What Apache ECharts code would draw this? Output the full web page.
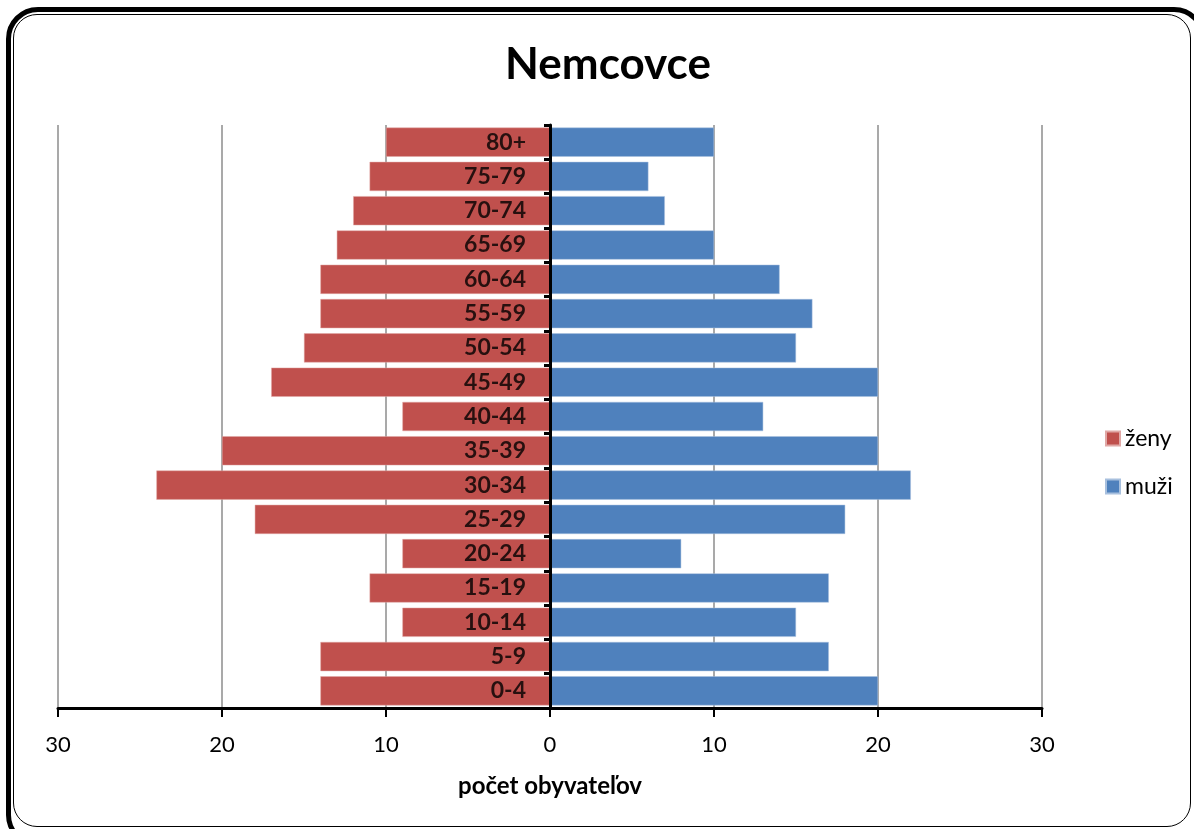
<!DOCTYPE html>
<html><head><meta charset="utf-8">
<script src="https://cdn.jsdelivr.net/npm/echarts@6/dist/echarts.min.js"></script>
<style>
html,body{margin:0;padding:0;background:#fff;overflow:hidden;}
#outer{position:absolute;left:6px;top:7px;width:1200px;height:840px;border:5px solid #000;border-radius:32px;box-sizing:border-box;}
#inner{position:absolute;left:13px;top:14px;width:1178px;height:813px;border:1.5px solid #000;border-radius:24px;box-sizing:border-box;background:#fff;}
#chart{position:absolute;left:0;top:0;width:1194px;height:829px;}
</style></head>
<body>
<div id="outer"></div>
<div id="inner"></div>
<div id="chart"></div>
<script>
const categories = ['0-4','5-9','10-14','15-19','20-24','25-29','30-34','35-39','40-44','45-49','50-54','55-59','60-64','65-69','70-74','75-79','80+'];
const zeny = [14,14,9,11,9,18,24,20,9,17,15,14,14,13,12,11,10];
const muzi = [20,17,15,17,8,18,22,20,13,20,15,16,14,10,7,6,10];
const xTicks = [-30,-20,-10,0,10,20,30];

const FONT = "'Lato',sans-serif";
const chart = echarts.init(document.getElementById('chart'));
chart.setOption({
  animation:false,
  title:{text:'Nemcovce',left:603,top:38,textAlign:'center',
    textStyle:{fontFamily:FONT,fontWeight:'bold',fontSize:44,color:'#000'}},
  legend:{orient:'vertical',left:1100,top:422,itemWidth:14,itemHeight:14,itemGap:25,icon:'rect',
    textStyle:{fontFamily:FONT,fontSize:23,color:'#000'},
    data:['ženy','muži']},
  grid:{left:58,right:152,top:125,bottom:121,outerBoundsMode:'none',containLabel:false},
  xAxis:{type:'value',min:xTicks[0],max:xTicks[xTicks.length-1],interval:10,
    name:'počet obyvateľov',nameLocation:'middle',nameGap:66,
    nameTextStyle:{fontFamily:FONT,fontWeight:'bold',fontSize:24,color:'#000'},
    axisLine:{show:true,onZero:false,lineStyle:{color:'#000',width:3}},
    axisTick:{show:true,length:9,lineStyle:{color:'#000',width:2}},
    axisLabel:{margin:26,fontFamily:FONT,fontSize:22,color:'#000',formatter:v=>Math.abs(v)},
    splitLine:{show:true,lineStyle:{color:'#8c8c8c',width:1.5}}},
  yAxis:{type:'category',data:categories,
    axisLine:{show:true,onZero:true,lineStyle:{color:'#000',width:3}},
    axisTick:{show:true,length:6,lineStyle:{color:'#000',width:3}},
    axisLabel:{show:false},
    z:10},
  series:[
    {name:'ženy',type:'bar',data:zeny.map(v=>-v),barWidth:'85%',barGap:'-100%',
      itemStyle:{color:'#c0504d',borderColor:'#e0a8a6',borderWidth:0.5}},
    {name:'muži',type:'bar',data:muzi,barWidth:'85%',barGap:'-100%',
      itemStyle:{color:'#4f81bd',borderColor:'#a8c0de',borderWidth:0.5}},
    {name:'labels',type:'scatter',symbolSize:0,silent:true,z:20,
      data:categories.map((c,i)=>[0,c]),
      label:{show:true,position:'left',distance:24,formatter:p=>categories[p.dataIndex],
        fontFamily:FONT,fontWeight:'bold',fontSize:23,color:'#000'}}
  ]
});
</script>
</body></html>
